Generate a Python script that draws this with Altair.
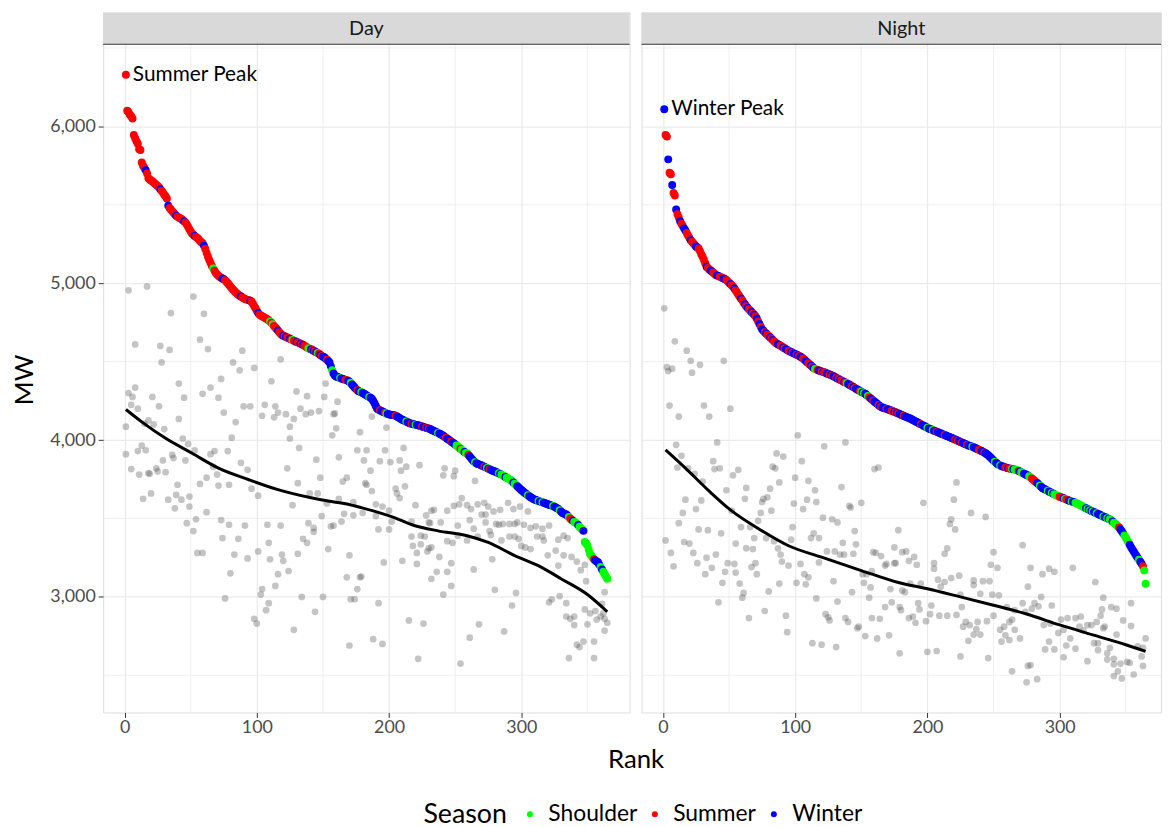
import altair as alt
import pandas as pd

FONT = "Lato"
SEASON_NAMES = {"h": "Shoulder", "s": "Summer", "w": "Winter"}
SEASONS = ["Shoulder", "Summer", "Winter"]
SEASON_COLORS = ["#00ff00", "#ff0000", "#0000ff"]

X_TICKS = [0, 100, 200, 300]
X_MINOR = [50, 150, 250, 350]
Y_TICKS = [3000, 4000, 5000, 6000]
Y_MINOR = [2500, 3500, 4500, 5500, 6500]

# Day load-duration curve (rank 1..365), MW
DAY_MW = [
    6330, 6100, 6090, 6075, 6065, 6050, 5945, 5925, 5905, 5890,
    5855, 5850, 5770, 5750, 5735, 5720, 5700, 5670, 5662, 5655,
    5650, 5642, 5635, 5628, 5620, 5612, 5600, 5590, 5578, 5565,
    5555, 5540, 5495, 5480, 5470, 5460, 5450, 5440, 5430, 5425,
    5420, 5415, 5410, 5402, 5395, 5388, 5375, 5360, 5345, 5330,
    5318, 5310, 5302, 5295, 5288, 5280, 5270, 5262, 5255, 5240,
    5220, 5195, 5170, 5148, 5130, 5110, 5095, 5080, 5065, 5055,
    5048, 5040, 5035, 5030, 5025, 5020, 5010, 5000, 4990, 4980,
    4970, 4960, 4950, 4942, 4935, 4927, 4920, 4915, 4910, 4905,
    4900, 4897, 4894, 4891, 4888, 4884, 4870, 4855, 4840, 4825,
    4811, 4800, 4795, 4790, 4785, 4780, 4775, 4770, 4763, 4757,
    4748, 4738, 4728, 4718, 4708, 4698, 4688, 4678, 4670, 4665,
    4662, 4658, 4654, 4650, 4646, 4642, 4638, 4634, 4630, 4626,
    4623, 4619, 4615, 4611, 4606, 4601, 4596, 4591, 4585, 4580,
    4579, 4575, 4570, 4565, 4560, 4555, 4550, 4543, 4537, 4532,
    4528, 4520, 4512, 4504, 4495, 4470, 4445, 4425, 4411, 4405,
    4402, 4399, 4396, 4393, 4390, 4387, 4384, 4381, 4379, 4372,
    4365, 4355, 4345, 4335, 4325, 4318, 4312, 4308, 4306, 4300,
    4295, 4290, 4285, 4280, 4275, 4270, 4263, 4250, 4235, 4218,
    4200, 4195, 4190, 4186, 4182, 4178, 4174, 4170, 4167, 4164,
    4162, 4160, 4159, 4158, 4155, 4150, 4145, 4140, 4135, 4130,
    4126, 4122, 4118, 4114, 4110, 4106, 4104, 4102, 4100, 4098,
    4096, 4094, 4092, 4090, 4087, 4084, 4081, 4078, 4076, 4074,
    4070, 4066, 4062, 4058, 4054, 4050, 4046, 4042, 4037, 4032,
    4027, 4021, 4015, 4009, 4003, 3997, 3991, 3985, 3979, 3972,
    3966, 3959, 3952, 3945, 3938, 3931, 3924, 3918, 3916, 3905,
    3895, 3885, 3875, 3865, 3858, 3852, 3848, 3845, 3842, 3838,
    3834, 3830, 3826, 3822, 3818, 3814, 3810, 3806, 3803, 3800,
    3796, 3792, 3788, 3784, 3780, 3775, 3770, 3765, 3760, 3755,
    3750, 3745, 3738, 3730, 3722, 3714, 3706, 3698, 3690, 3682,
    3675, 3668, 3661, 3654, 3648, 3642, 3636, 3630, 3625, 3621,
    3618, 3615, 3612, 3609, 3606, 3603, 3600, 3597, 3594, 3591,
    3588, 3585, 3582, 3579, 3575, 3571, 3566, 3560, 3552, 3544,
    3537, 3532, 3528, 3526, 3518, 3510, 3500, 3492, 3485, 3478,
    3474, 3466, 3458, 3448, 3438, 3430, 3421, 3350, 3340, 3330,
    3300, 3275, 3263, 3250, 3240, 3232, 3226, 3221, 3205, 3190,
    3175, 3160, 3145, 3130, 3116,
]
DAY_SEASON = "".join([
    "ssssssssss", "ssssswssss", "sssssswsss", "sswsssssws", "sssswsssss",
    "sswssssssw", "sssssshsss", "ssswwsssss", "ssssssswss", "sssswsssss",
    "wssssssssh", "shssswsssw", "swsswshssw", "sswswssshh", "wswswhswsw",
    "wwswwwhwww", "wwhwwwssww", "hwwwwswwhw", "wwwwhwwwww", "wwswwwshww",
    "wwwwswwwww", "wwhwwwswwh", "wwwwswwsws", "wwwwwwhwww", "wwswwwswww",
    "hhhshhwhhs", "wwwwhwwwww", "wswhwswwww", "wwhwhhhwhh", "hhhwhhwwww",
    "wwwwhwwwww", "wwhwwhwwww", "wwwhwwwwhw", "wwwwwhsswh", "hhwhhhwhhh",
    "hhhhswwwwh", "whhhh",
])

# Night load-duration curve (rank 1..365), MW
NIGHT_MW = [
    6110, 5945, 5935, 5790, 5705, 5695, 5626, 5575, 5560, 5470,
    5440, 5420, 5395, 5380, 5365, 5350, 5337, 5320, 5305, 5290,
    5274, 5265, 5255, 5245, 5235, 5228, 5221, 5205, 5185, 5169,
    5150, 5128, 5105, 5098, 5090, 5082, 5075, 5068, 5060, 5053,
    5050, 5046, 5042, 5038, 5034, 5030, 5026, 5021, 5012, 5003,
    4995, 4987, 4979, 4966, 4954, 4941, 4928, 4916, 4903, 4891,
    4878, 4866, 4853, 4844, 4835, 4826, 4817, 4808, 4799, 4790,
    4775, 4757, 4740, 4723, 4706, 4697, 4688, 4680, 4672, 4664,
    4656, 4648, 4639, 4630, 4622, 4616, 4611, 4606, 4601, 4596,
    4590, 4585, 4580, 4575, 4569, 4565, 4561, 4557, 4553, 4549,
    4545, 4541, 4537, 4532, 4527, 4520, 4512, 4505, 4497, 4490,
    4482, 4475, 4468, 4460, 4453, 4450, 4447, 4444, 4441, 4438,
    4435, 4432, 4429, 4425, 4421, 4418, 4415, 4411, 4407, 4402,
    4398, 4393, 4389, 4384, 4380, 4376, 4371, 4367, 4362, 4358,
    4353, 4348, 4343, 4338, 4333, 4328, 4323, 4318, 4313, 4308,
    4303, 4299, 4295, 4288, 4281, 4273, 4266, 4259, 4252, 4245,
    4238, 4231, 4224, 4217, 4211, 4208, 4205, 4202, 4199, 4196,
    4193, 4190, 4187, 4184, 4180, 4177, 4173, 4170, 4166, 4162,
    4158, 4155, 4151, 4148, 4144, 4141, 4137, 4133, 4128, 4124,
    4119, 4115, 4110, 4106, 4101, 4097, 4092, 4088, 4083, 4079,
    4074, 4071, 4067, 4064, 4060, 4057, 4053, 4050, 4046, 4043,
    4039, 4036, 4032, 4029, 4025, 4022, 4018, 4015, 4011, 4007,
    4004, 4000, 3996, 3992, 3988, 3985, 3981, 3977, 3973, 3970,
    3966, 3962, 3960, 3958, 3954, 3950, 3946, 3942, 3938, 3934,
    3930, 3926, 3921, 3916, 3910, 3903, 3895, 3887, 3878, 3870,
    3862, 3855, 3848, 3842, 3838, 3835, 3832, 3829, 3826, 3823,
    3821, 3819, 3817, 3815, 3814, 3812, 3811, 3807, 3803, 3799,
    3795, 3790, 3786, 3782, 3778, 3774, 3769, 3762, 3755, 3748,
    3741, 3733, 3726, 3718, 3710, 3703, 3695, 3690, 3686, 3681,
    3677, 3672, 3668, 3663, 3659, 3655, 3650, 3646, 3642, 3639,
    3636, 3632, 3629, 3625, 3622, 3618, 3615, 3612, 3609, 3606,
    3603, 3600, 3596, 3592, 3587, 3583, 3579, 3574, 3570, 3566,
    3561, 3557, 3552, 3548, 3545, 3541, 3537, 3533, 3529, 3525,
    3521, 3517, 3513, 3510, 3506, 3502, 3499, 3495, 3488, 3481,
    3473, 3466, 3458, 3450, 3442, 3430, 3418, 3405, 3392, 3379,
    3363, 3347, 3332, 3316, 3303, 3290, 3276, 3263, 3250, 3237,
    3224, 3211, 3195, 3169, 3084,
]
NIGHT_SEASON = "".join([
    "wsswsswssw", "sswsswwsss", "wssswwssss", "sswsswwsss", "wwssswwsss",
    "wsswssssws", "swswsswsws", "wswswwswss", "wswssswwss", "wswwsswsww",
    "swswwsswws", "swswhhswws", "wsswwswsww", "swswsswshw", "wwswswwwsh",
    "whwwhswwsw", "wwswswwwsw", "wwsswswsww", "wswwwwwwww", "wwwwswwwwh",
    "wwwhwwswww", "wwswwwwwww", "swswwswwws", "wwwhwwwwss", "wwswwwwwww",
    "hwwwhwwwss", "wsshwhhhsw", "hhwwwwhhss", "sswwhwwwww", "hwwhwhhhhs",
    "sswhsswwhw", "whhhhhhhhw", "hwhwhwwhww", "wwhwwhwhhw", "hhhhswwwhh",
    "hhwwwwwwwh", "wwshh",
])

# Grey comparison points (rank, MW)
DAY_SCATTER = [
    (3, 4955), (17, 4980), (52, 4915), (35, 4810), (60, 4805), (8, 4610), (27, 4600), (34, 4575), (57, 4640), (63, 4580),
    (28, 4495), (82, 4495), (89, 4570), (87, 4445), (98, 4460), (118, 4515), (111, 4375), (73, 4390), (65, 4335), (41, 4360),
    (8, 4335), (3, 4300), (6, 4275), (5, 4225), (10, 4200), (21, 4275), (26, 4215), (45, 4270), (59, 4295), (71, 4270),
    (75, 4175), (90, 4215), (95, 4215), (106, 4225), (114, 4215), (104, 4155), (113, 4145), (116, 4175), (122, 4165), (133, 4200),
    (137, 4165), (141, 4175), (147, 4185), (130, 4310), (138, 4280), (151, 4275), (152, 4360), (161, 4245), (158, 4165), (160, 4075),
    (157, 4030), (178, 4050), (125, 4085), (128, 4135), (125, 4010), (84, 4115), (81, 4015), (1, 4085), (18, 4125), (22, 4100),
    (30, 4070), (15, 4105), (41, 4135), (44, 4010), (48, 3975), (1, 3910), (10, 3930), (13, 3965), (16, 3935), (29, 3870),
    (36, 3905), (37, 3885), (46, 3870), (53, 3935), (68, 3930), (78, 3930), (65, 3910), (88, 3855), (93, 3810), (5, 3815),
    (11, 3780), (18, 3790), (19, 3785), (24, 3820), (25, 3800), (31, 3795), (67, 3830), (70, 3780), (62, 3760), (57, 3720),
    (71, 3710), (79, 3715), (40, 3715), (20, 3660), (14, 3625), (33, 3620), (39, 3650), (43, 3620), (49, 3640), (38, 3565),
    (49, 3575), (62, 3540), (47, 3470), (52, 3420), (54, 3495), (73, 3490), (79, 3460), (91, 3455), (96, 3690), (101, 3645),
    (108, 3460), (118, 3455), (74, 3375), (86, 3370), (109, 3345), (55, 3280), (59, 3280), (83, 3270), (93, 3245), (101, 3290),
    (110, 3240), (119, 3270), (120, 3230), (131, 3275), (80, 3150), (116, 3145), (124, 3165), (114, 3070), (104, 3050), (103, 3015),
    (76, 2990), (134, 3000), (150, 3000), (109, 2960), (107, 2915), (98, 2860), (100, 2830), (128, 2790), (144, 2905), (170, 2690),
    (168, 3125), (178, 3125), (176, 3050), (171, 2985), (174, 2985), (170, 3265), (154, 3305), (135, 3370), (138, 3345), (139, 3470),
    (143, 3440), (143, 3415), (156, 3450), (158, 3455), (164, 3480), (149, 3515), (166, 3530), (173, 3520), (180, 3535), (153, 3595),
    (162, 3625), (173, 3605), (127, 3585), (140, 3660), (146, 3660), (148, 3760), (131, 3725), (123, 3820), (132, 3950), (145, 3875),
    (162, 3890), (165, 3735), (168, 3760), (176, 3935), (181, 3870), (183, 3935), (182, 3725), (159, 4170),
    (187, 4150), (198, 4080), (197, 3935), (193, 3865), (201, 3860), (186, 3805), (183, 3715), (187, 3675), (208, 3870), (209, 3805),
    (213, 3830), (211, 3950), (223, 3840), (205, 3690), (206, 3660), (208, 3630), (212, 3705), (190, 3590), (195, 3575), (190, 3515),
    (200, 3550), (192, 3430), (200, 3430), (202, 3480), (220, 3585), (228, 3520), (234, 3555), (231, 3470), (239, 3475), (242, 3820),
    (241, 3775), (250, 3805), (249, 3770), (244, 3550), (249, 3580), (253, 3590), (255, 3630), (259, 3585), (262, 3560), (265, 3740),
    (267, 3590), (272, 3600), (275, 3575), (270, 3525), (273, 3525), (232, 3550), (217, 3480), (230, 3475), (217, 3385), (224, 3390),
    (227, 3385), (218, 3325), (224, 3335), (230, 3310), (232, 3315), (221, 3280), (229, 3290), (238, 3255), (244, 3355), (248, 3345),
    (252, 3455), (261, 3490), (264, 3435), (273, 3475), (276, 3420), (281, 3465), (283, 3460), (286, 3465), (291, 3465), (295, 3465),
    (297, 3475), (302, 3460), (307, 3440), (311, 3450), (316, 3435), (321, 3455), (252, 3390), (259, 3360), (267, 3385), (277, 3395),
    (285, 3360), (291, 3385), (295, 3385), (298, 3370), (300, 3325), (303, 3315), (307, 3305), (312, 3385), (316, 3385), (317, 3360),
    (328, 3365), (332, 3390), (335, 3375), (326, 3295), (320, 3265), (328, 3200), (332, 3265), (338, 3255), (342, 3225), (345, 3170),
    (348, 3205), (349, 3100), (278, 3240), (264, 3175), (247, 3215), (244, 3160), (236, 3160), (232, 3115), (247, 3070), (241, 3015),
    (210, 3230), (221, 3210), (196, 3220), (179, 3130), (280, 3045), (296, 3025), (293, 2945), (268, 2825), (261, 2740), (287, 2780),
    (254, 2575), (222, 2605), (226, 2830), (215, 2850), (192, 2960), (188, 2730), (195, 2700), (321, 2965), (323, 2985), (329, 3005),
    (334, 2960), (334, 2875), (337, 2860), (340, 2875), (340, 2820), (348, 2920), (350, 2825), (352, 2895), (356, 2910), (357, 2855),
    (360, 2875), (362, 2895), (363, 2860), (365, 2835), (363, 2785), (363, 3030), (361, 2955), (347, 2715), (342, 2695), (344, 2680),
    (355, 2715), (336, 2610), (355, 2610), (290, 3600), (294, 3560), (284, 3555), (279, 3545), (305, 3545), (299, 3575),
]
NIGHT_SCATTER = [
    (1, 4840), (9, 4630), (18, 4570), (21, 4505), (28, 4480), (46, 4505), (3, 4465), (7, 4455), (4, 4440), (22, 4430),
    (5, 4220), (31, 4220), (51, 4200), (12, 4150), (35, 4150), (10, 3970), (14, 3900), (11, 3825), (41, 3985), (38, 3865),
    (39, 3815), (43, 3820), (19, 3820), (24, 3785), (30, 3735), (53, 3775), (57, 3810), (48, 3680), (63, 3695), (81, 3690),
    (86, 3915), (91, 3895), (83, 3830), (85, 3820), (102, 4030), (105, 3865), (122, 3960), (138, 3985), (100, 3760), (110, 3740),
    (115, 3680), (135, 3700), (160, 3815), (163, 3825), (17, 3620), (15, 3535), (29, 3615), (25, 3560), (12, 3470), (2, 3360),
    (6, 3280), (8, 3195), (16, 3350), (20, 3340), (23, 3280), (26, 3215), (32, 3145), (33, 3250), (37, 3185), (40, 3270),
    (27, 3430), (34, 3425), (44, 3405), (52, 3550), (62, 3625), (59, 3445), (66, 3445), (72, 3485), (74, 3535), (75, 3605),
    (79, 3635), (82, 3550), (55, 3340), (63, 3310), (68, 3305), (69, 3375), (78, 3375), (84, 3355), (87, 3310), (89, 3270),
    (90, 3225), (95, 3200), (98, 3445), (97, 3365), (104, 3210), (107, 3145), (110, 3125), (101, 3090), (108, 3080), (49, 3215),
    (54, 3210), (55, 3155), (47, 3160), (45, 3090), (58, 3085), (67, 3190), (70, 3215), (71, 3145), (61, 3025), (60, 2995),
    (42, 2965), (80, 3035), (88, 3085), (65, 2865), (77, 2910), (93, 2880), (94, 2775), (113, 2705), (120, 2695), (131, 2680),
    (123, 2890), (125, 2870), (126, 2850), (116, 2990), (132, 2970), (138, 2865), (140, 2840), (147, 2800), (148, 2810), (153, 2750),
    (162, 2735), (158, 2865), (164, 2860), (171, 2755), (129, 3100), (143, 3030), (152, 3090), (156, 2995), (157, 3060), (151, 3145),
    (154, 3145), (158, 3165), (168, 2935), (172, 3050), (173, 2965), (118, 3220), (124, 3290), (130, 3290), (134, 3270), (137, 3270),
    (144, 3275), (146, 3335), (136, 3345), (118, 3375), (112, 3375), (114, 3405), (121, 3505), (128, 3495), (132, 3475), (145, 3420),
    (141, 3580), (142, 3570), (150, 3600), (159, 3285), (161, 3280), (165, 3260), (168, 3200), (169, 3210), (175, 3215), (176, 3215),
    (175, 3315), (178, 3425), (181, 3285), (181, 3040), (179, 2935), (179, 2640), (116, 3605), (109, 3620), (106, 3560), (99, 3595),
    (88, 3730), (76, 3625),
    (222, 3730), (220, 3620), (197, 3600), (233, 3535), (244, 3510), (218, 3495), (217, 3465), (221, 3430), (184, 3290), (186, 3230),
    (190, 3255), (192, 3205), (215, 3310), (213, 3275), (205, 3215), (205, 3180), (250, 3285), (248, 3205), (253, 3185), (272, 3330),
    (278, 3185), (287, 3145), (292, 3180), (296, 3160), (310, 3185), (327, 3095), (276, 3065), (333, 2995), (354, 2960), (208, 3110),
    (213, 3095), (218, 3120), (224, 3135), (235, 3105), (242, 3100), (247, 3100), (210, 3065), (225, 3015), (235, 3075), (240, 3020),
    (249, 3015), (254, 3010), (183, 3030), (187, 3085), (195, 3085), (203, 2945), (180, 2915), (186, 2865), (189, 2875), (191, 2835),
    (194, 2920), (193, 2960), (199, 2845), (202, 2890), (209, 2880), (215, 2880), (222, 2885), (226, 2935), (229, 2840), (227, 2810),
    (232, 2820), (237, 2795), (231, 2720), (235, 2760), (240, 2760), (238, 2840), (245, 2845), (250, 2880), (255, 2790), (258, 2810),
    (259, 2755), (262, 2840), (264, 2855), (266, 2790), (270, 2735), (256, 2715), (246, 2610), (264, 2525), (275, 2455), (278, 2565),
    (283, 2475), (262, 2725), (274, 2905), (279, 2925), (284, 2940), (281, 2960), (286, 3000), (294, 2945), (288, 2820), (293, 2830),
    (301, 2855), (299, 2770), (303, 2790), (306, 2865), (312, 2865), (315, 2810), (308, 2735), (292, 2715), (289, 2665), (296, 2665),
    (303, 2615), (305, 2690), (312, 2670), (318, 2785), (321, 2820), (324, 2820), (328, 2840), (331, 2880), (334, 2810), (329, 2705),
    (326, 2705), (321, 2590), (329, 2660), (336, 2640), (338, 2675), (336, 2600), (341, 2605), (341, 2570), (341, 2495), (344, 2525),
    (347, 2480), (346, 2575), (351, 2585), (353, 2580), (356, 2505), (359, 2685), (363, 2675), (362, 2620), (363, 2560), (365, 2735),
    (354, 2815), (343, 2760), (332, 2920), (339, 2935), (343, 2925), (348, 2850), (316, 2875), (333, 2800), (272, 2960), (266, 2915),
    (260, 2935), (200, 2650), (207, 2655), (225, 2620), (276, 2560),
]

# Smoothed trend (rank, MW)
DAY_SMOOTH = [
    (1, 4195), (13, 4116), (31, 4011), (51, 3916), (71, 3821), (94, 3747), (116, 3684),
    (141, 3632), (154, 3611), (167, 3594), (179, 3569), (204, 3505), (219, 3455), (237, 3421),
    (259, 3390), (275, 3347), (295, 3263), (315, 3190), (330, 3116), (350, 3015), (365, 2905),
]
NIGHT_SMOOTH = [
    (2, 3937), (17, 3821), (35, 3674), (52, 3548), (75, 3421), (95, 3326), (120, 3253),
    (150, 3168), (178, 3092), (200, 3052), (225, 3000), (250, 2947), (275, 2891), (300, 2821),
    (325, 2758), (350, 2695), (365, 2653),
]

# Layout
X_MIN, X_MAX = -16.2, 381.9
Y_MIN, Y_MAX = 2263, 6524
PANEL_H, STRIP_H = 674, 32
DAY_W, NIGHT_W = 531, 524
Y_TOP = Y_MAX + (Y_MAX - Y_MIN) * STRIP_H / PANEL_H
GRID = "#ebebeb"
INK = "#333333"


def build_panel(name, mw, codes, scatter, smooth, peak_label, width, first):
    n = min(len(mw), len(codes))
    curve = pd.DataFrame({
        "Rank": list(range(1, n + 1)),
        "MW": mw[:n],
        "Season": [SEASON_NAMES[c] for c in codes[:n]],
    })
    other = pd.DataFrame(scatter, columns=["Rank", "MW"])
    fit = pd.DataFrame(smooth, columns=["Rank", "MW"])
    peak = curve.iloc[[0]].assign(Label=peak_label)
    strip = pd.DataFrame({"Panel": [name]})
    xminor = pd.DataFrame({"Rank": X_MINOR})
    yminor = pd.DataFrame({"MW": Y_MINOR})

    xmax = X_MIN + (X_MAX - X_MIN) * width / DAY_W
    xs = alt.Scale(domain=[X_MIN, xmax], nice=False, zero=False)
    ys = alt.Scale(domain=[Y_MIN, Y_TOP], nice=False, zero=False)

    xaxis_kw = dict(values=X_TICKS, format="d", grid=True, gridColor=GRID, gridWidth=1.3,
                    domain=False, tickColor=INK, tickSize=5, tickWidth=1,
                    labelFontSize=18, labelColor="#4d4d4d", labelPadding=1, labelFont=FONT)
    yaxis_kw = dict(values=Y_TICKS, format=",d", grid=True, gridColor=GRID, gridWidth=1.3,
                    domain=False)
    if first:
        xaxis_kw.update(title="Rank", titleFontSize=26, titleFontWeight="normal",
                        titleColor="#000000", titleFont=FONT, titleX=537, titleY=56,
                        titleAlign="center", titleBaseline="alphabetic")
        yaxis_kw.update(tickColor=INK, tickSize=5, tickWidth=1,
                        labelFontSize=18, labelColor="#4d4d4d", labelPadding=3, labelFont=FONT,
                        title="MW", titleFontSize=26, titleFontWeight="normal",
                        titleColor="#000000", titleFont=FONT, titleX=-71, titleY=370,
                        titleAlign="center", titleBaseline="alphabetic", titleAngle=270)
    else:
        xaxis_kw.update(title=None)
        yaxis_kw.update(ticks=False, labels=False, title=None)

    X = lambda f: alt.X(f, scale=xs, axis=alt.Axis(**xaxis_kw))
    Y = lambda f: alt.Y(f, scale=ys, axis=alt.Axis(**yaxis_kw))

    minor_v = alt.Chart(xminor).mark_rule(color=GRID, strokeWidth=0.8).encode(x=X("Rank:Q"))
    minor_h = alt.Chart(yminor).mark_rule(color=GRID, strokeWidth=0.8).encode(y=Y("MW:Q"))
    grey = alt.Chart(other).mark_circle(size=46, color="#555555", opacity=0.35).encode(
        x=X("Rank:Q"), y=Y("MW:Q"))
    trend = alt.Chart(fit).mark_line(color="#000000", strokeWidth=3,
                                     interpolate="monotone").encode(x=X("Rank:Q"), y=Y("MW:Q"))
    legend = alt.Legend(title="Season", orient="none", legendX=323, legendY=797,
                        direction="horizontal", titleOrient="left", titleFontSize=27,
                        titleFontWeight="normal", titleColor="#000000", titleFont=FONT,
                        labelFontSize=23, labelColor="#000000", labelFont=FONT,
                        symbolType="circle", symbolSize=36, symbolStrokeWidth=0,
                        columnPadding=6, labelOffset=7, titlePadding=11)
    dots = alt.Chart(curve).mark_circle(size=64, opacity=1).encode(
        x=X("Rank:Q"), y=Y("MW:Q"),
        color=alt.Color("Season:N", scale=alt.Scale(domain=SEASONS, range=SEASON_COLORS),
                        legend=legend))
    label = alt.Chart(peak).mark_text(align="left", baseline="middle", dx=7, fontSize=21,
                                      color="#000000", font=FONT).encode(
        x=X("Rank:Q"), y=Y("MW:Q"), text="Label:N")
    strip_bg = alt.Chart(strip).mark_rect(color="#d9d9d9").encode(
        x=alt.value(0), x2=alt.value(width), y=alt.value(0), y2=alt.value(STRIP_H))
    strip_line = alt.Chart(strip).mark_rule(color=INK, strokeWidth=1).encode(
        x=alt.value(0), x2=alt.value(width), y=alt.value(STRIP_H))
    strip_text = alt.Chart(strip).mark_text(fontSize=20, color="#1a1a1a", font=FONT,
                                            baseline="middle").encode(
        x=alt.value(width / 2), y=alt.value(STRIP_H / 2 + 1), text="Panel:N")

    return alt.layer(minor_v, minor_h, grey, trend, dots, label,
                     strip_bg, strip_line, strip_text).properties(
        width=width, height=PANEL_H + STRIP_H)


day = build_panel("Day", DAY_MW, DAY_SEASON, DAY_SCATTER, DAY_SMOOTH, "Summer Peak", DAY_W, True)
night = build_panel("Night", NIGHT_MW, NIGHT_SEASON, NIGHT_SCATTER, NIGHT_SMOOTH, "Winter Peak", NIGHT_W, False)

chart = alt.hconcat(day, night, spacing=12, bounds="flush").resolve_scale(
    color="shared").properties(
    padding={"left": 3, "top": 0, "right": 0, "bottom": 0}
).configure_view(stroke=INK, strokeWidth=1.2).configure(font=FONT)

chart.save("out.html", embed_options={"renderer": "svg", "actions": False})
